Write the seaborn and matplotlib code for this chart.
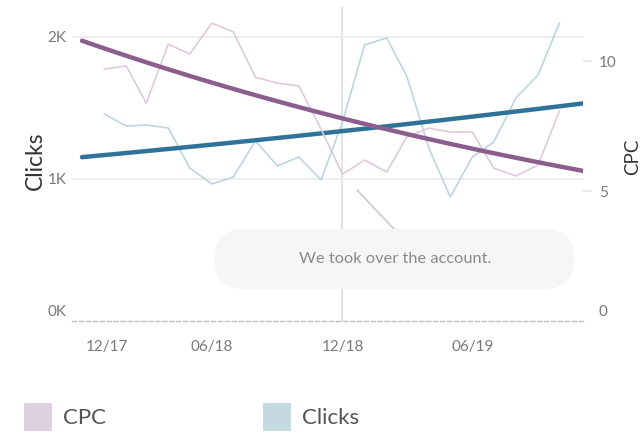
import matplotlib
matplotlib.use('Agg')
import matplotlib.pyplot as plt
import matplotlib.dates as mdates
from matplotlib.patches import FancyBboxPatch, Rectangle
from matplotlib.lines import Line2D
from matplotlib.transforms import ScaledTranslation
import numpy as np
import pandas as pd
import seaborn as sns

# monthly values
months = pd.date_range('2018-01-01', periods=22, freq='MS')
cpc = [9.69, 9.81, 8.38, 10.65, 10.27, 11.46, 11.12, 9.38, 9.15, 9.04, 7.38,
       5.65, 6.19, 5.73, 7.08, 7.42, 7.27, 7.27, 5.88, 5.58, 6.00, 8.08]
clicks = [1458, 1373, 1380, 1359, 1077, 965, 1014, 1268, 1092, 1155, 993,
          1401, 1944, 1993, 1725, 1218, 873, 1155, 1261, 1570, 1732, 2099]

tick_dates = pd.to_datetime(['2017-12-01', '2018-06-01', '2018-12-01', '2019-06-01'])
tick_labels = ['12/17', '06/18', '12/18', '06/19']
clicks_ticks = [0, 1000, 2000]
clicks_labels = ['0K', '1K', '2K']
cpc_ticks = [0, 5, 10]
marker_date = pd.Timestamp('2018-12-01')
note = 'We took over the account.'

x_start = pd.Timestamp('2017-11-17')
x_end = pd.Timestamp('2019-11-03')
trend_start = pd.Timestamp('2017-12-01')

cpc_light, cpc_dark = '#DDCADC', '#8C5E8E'
clk_light, clk_dark = '#BCD5DF', '#2F7498'
grey_txt = '#7A7A7A'


def exp_trend(dates, values):
    """exponential trend line (log-linear fit), like Tableau's"""
    t = mdates.date2num(dates)
    b, a = np.polyfit(t, np.log(values), 1)
    span = pd.date_range(trend_start, x_end, periods=60)
    return span, np.exp(a + b * mdates.date2num(span))


sns.set_style('white')
plt.rcParams['font.family'] = ['Lato', 'DejaVu Sans']

fig = plt.figure(figsize=(6.41, 4.34), dpi=100)
ax = fig.add_axes([72 / 641, 113 / 434, 511 / 641, 314 / 434])
ax2 = ax.twinx()

# clicks on the left axis
sns.lineplot(x=months, y=clicks, ax=ax, color=clk_light, lw=1.2)
tx, ty = exp_trend(months, clicks)
sns.lineplot(x=tx, y=ty, ax=ax, color=clk_dark, lw=3.2)

# cpc on the right axis
sns.lineplot(x=months, y=cpc, ax=ax2, color=cpc_light, lw=1.2)
tx, ty = exp_trend(months, cpc)
sns.lineplot(x=tx, y=ty, ax=ax2, color=cpc_dark, lw=3.2)

ax.axvline(marker_date, color='#E3E3E3', lw=1.5, zorder=0)

ax.set_xlim(x_start, x_end)
ax.set_ylim(0, 2211)
ax2.set_ylim(0, 12.08)

ax.set_xticks(tick_dates)
ax.set_xticklabels(tick_labels)
ax.set_xticks(pd.date_range('2017-12-01', '2019-11-01', freq='MS'), minor=True)
ax.tick_params(axis='x', which='both', length=6.5, width=1.2, color='#DDDDDD',
               labelsize=11, labelcolor=grey_txt, pad=7)

ax.set_yticks(clicks_ticks)
ax.set_yticklabels(clicks_labels)
ax.tick_params(axis='y', length=0, labelsize=11, labelcolor=grey_txt, pad=4)
ax.yaxis.grid(True, color='#EDEDED', lw=1.5)
ax.set_axisbelow(True)

ax2.set_yticks(cpc_ticks)
ax2.tick_params(axis='y', length=6.5, width=1.2, color='#E6E6E6',
                labelsize=11, labelcolor=grey_txt, pad=5)

# zero labels sit a bit above the baseline
lift = ScaledTranslation(0, 0.11, fig.dpi_scale_trans)
t0 = ax.yaxis.get_major_ticks()[0]
t0.gridline.set_visible(False)
t0.label1.set_transform(t0.label1.get_transform() + lift)
r0 = ax2.yaxis.get_major_ticks()[0]
r0.tick2line.set_visible(False)
r0.label2.set_transform(r0.label2.get_transform() + lift)

# first date label is pushed inside the plot
x0 = ax.xaxis.get_major_ticks()[0]
x0.label1.set_transform(x0.label1.get_transform()
                        + ScaledTranslation(0.25, 0, fig.dpi_scale_trans))

for a in (ax, ax2):
    a.set_xlabel('')
    a.set_ylabel('')
    for s in a.spines.values():
        s.set_visible(False)
ax.spines['bottom'].set_visible(True)
ax.spines['bottom'].set_linestyle((0, (3, 2)))
ax.spines['bottom'].set_color('#BDBDBD')
ax.spines['bottom'].set_linewidth(1)

fig.text(0.355, 4.34 - 1.61, 'Clicks', transform=fig.dpi_scale_trans, rotation=90,
         ha='center', va='center', fontsize=16.5, color='#333333')
fig.text(6.33, 4.34 - 1.57, 'CPC', transform=fig.dpi_scale_trans, rotation=90,
         ha='center', va='center', fontsize=13.5, color='#333333')

# annotation pill
fig.add_artist(Line2D([3.57, 3.94], [4.34 - 1.90, 4.34 - 2.29],
                      transform=fig.dpi_scale_trans, color='#CFCFCF', lw=1.3))
fig.patches.append(FancyBboxPatch((2.14, 1.45), 3.60, 0.60,
                                  boxstyle='round,pad=0,rounding_size=0.3',
                                  transform=fig.dpi_scale_trans, fc='#F6F6F6',
                                  ec='none', zorder=2))
fig.text(3.95, 1.75, note, transform=fig.dpi_scale_trans, ha='center',
         va='center', fontsize=11.8, color='#8A8A8A', zorder=3)

# legend
for x0, col, name in [(0.24, '#DDD0DF', 'CPC'), (2.63, '#C5D9E1', 'Clicks')]:
    fig.patches.append(Rectangle((x0, 0.03), 0.28, 0.28, transform=fig.dpi_scale_trans,
                                 fc=col, ec='none'))
    fig.text(x0 + 0.39, 0.165, name, transform=fig.dpi_scale_trans, ha='left',
             va='center', fontsize=16, color='#555555')

fig.savefig('out.png', dpi=100)
